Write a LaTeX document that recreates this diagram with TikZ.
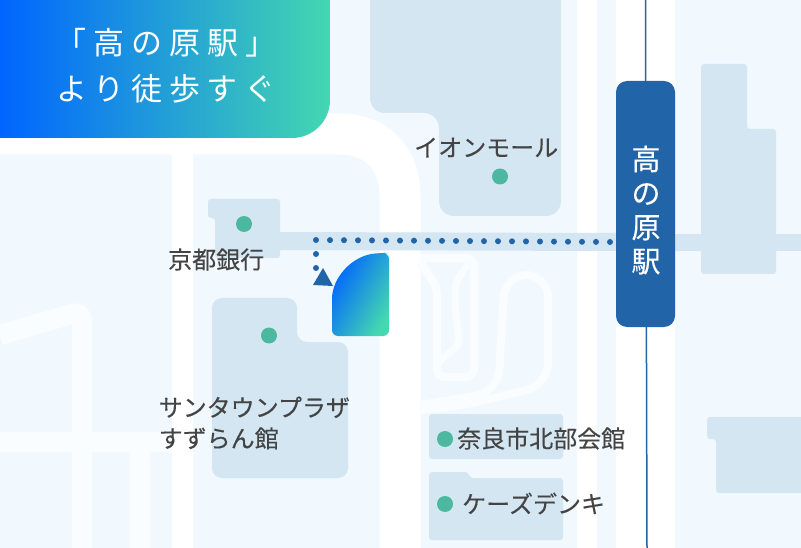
\documentclass[tikz,border=0pt]{standalone}
\usepackage{fontspec}
\usepackage{tikz}
\setmainfont[FakeBold=0.2]{Noto Sans CJK JP}
\newfontfamily\panelfont[LetterSpace=22]{Noto Sans CJK JP}
\definecolor{mappale}{HTML}{F1F8FE}
\definecolor{mapbuilding}{HTML}{D3E6F2}
\definecolor{mapspot}{HTML}{4DB8A0}
\definecolor{maprail}{HTML}{2264A8}
\definecolor{maptext}{HTML}{444444}
\definecolor{mapfaint}{HTML}{FAFDFF}
\definecolor{gradblue}{HTML}{0065FF}
\definecolor{gradgreen}{HTML}{44D7B0}
\tikzset{
  road/.style={draw=white,line width=20pt},
  sideroad/.style={draw=mapfaint,line width=20pt},
  ramp/.style={draw=mapfaint,line width=8pt,line join=round,rounded corners=8pt},
  building/.style={fill=mapbuilding,rounded corners=#1},
  building/.default=3pt,
  spot/.style={fill=mapspot},
  maplabel/.style={inner sep=0pt,anchor=west,text=maptext,font=\fontsize{24}{31}\selectfont,align=left}
}
\begin{document}
\begin{tikzpicture}[x=1pt,y=-1pt]
\useasboundingbox (0,0) rectangle (801,548);
\clip (0,0) rectangle (801,548);
\fill[mappale] (0,0) rectangle (801,548);
\draw[sideroad] (82,548)--(82,326) [rounded corners=10pt] --(82,311)--(0,335);
\draw[sideroad] (140,442)--(140,548);
\draw[sideroad] (0,442)--(193,442);
\draw[road,line width=41pt] (0,134)--(340,134) .. controls (378,134) and (400,160) .. (400,196)--(400,548);
\draw[road,line width=16pt] (0,146)--(200,146);
\draw[road,line width=21pt] (182.5,146)--(182.5,548);
\draw[road] (587,0)--(587,548);
\draw[road,line width=59pt] (645.5,0)--(645.5,548);
\draw[ramp] (420,262)--(437,287)--(437,377)--(474,377)--(474,258)--(420,258);
\draw[ramp,line width=7pt] (468,264)--(455,283)--(455,307)--(460,345)--(437,362)--(437,372);
\draw[ramp,rounded corners=22pt] (420,405)--(498,392)--(505,275)--(548,275)--(548,385)--(460,406)--(420,410);
\fill[mapbuilding] (280,232)--(616,233)--(616,251)--(280,250)--cycle;
\fill[mapbuilding] (675,234) rectangle (801,251);
\fill[building=15pt] (370,-30)--(370,113)--(439,113)--(439,216)--(561,216)--(561,-30)--cycle;
\fill[building] (208,199)--(280,199)--(280,258)--(215,258)--(215,218)--(208,218)--cycle;
\fill[building=10pt] (212,298)--(297,298)--(297,342)--(348,342)--(348,478)--(212,478)--cycle;
\fill[building] (429,414)--(563,414)--(563,459)--(429,459)--cycle;
\fill[building] (429,472)--(468,472)--(470,478)--(563,478)--(563,540)--(429,540)--cycle;
\fill[building] (701,64)--(747,64)--(747,129)--(776,129)--(776,274)--(701,274)--cycle;
\fill[building] (707,417)--(810,417)--(810,493)--(716,493)--(716,439)--(707,439)--cycle;
\draw[maprail,line width=1.5pt] (645.5,0)--(647,548);
\fill[maprail,rounded corners=11pt] (616,81) rectangle (675,327);
\draw[maprail,line width=6pt,line cap=round,dash pattern=on 0pt off 14pt] (316,268)--(316,240)--(612,242);
\fill[maprail] (323,268)--(333,286)--(313,285)--cycle;
\shade[left color=gradblue,right color=gradgreen,shading angle=60,rounded corners=6pt] (332,336)--(389,336)--(389,253)--(382,253) .. controls (352,255) and (332,278) .. (332,305)--cycle;
\shade[left color=gradblue,right color=gradgreen] (0,0)--(330,0)--(330,100) arc[start angle=0,end angle=90,radius=38]--(0,138)--cycle;
\fill[spot] (244,224) circle (8);
\fill[spot] (269,335.5) circle (8);
\fill[spot] (500,176.5) circle (8);
\fill[spot] (445,439) circle (8);
\fill[spot] (445,504) circle (8);
\node[inner sep=0pt,text=white,align=center,font=\panelfont\fontsize{31}{46}\selectfont] (panel) at (166,66) {「高の原駅」\\より徒歩すぐ};
\node[inner sep=0pt,text=white,align=center,font=\fontsize{29}{34}\selectfont] (station) at (646,210) {高\\の\\原\\駅};
\node[maplabel] (kyoto) at (168,259.5) {京都銀行};
\node[maplabel] (aeon) at (414,147.5) {イオンモール};
\node[maplabel] (suntown) at (158.5,423) {サンタウンプラザ\\すずらん館};
\node[maplabel] (nara) at (457,438.5) {奈良市北部会館};
\node[maplabel] (ks) at (462,503.5) {ケーズデンキ};
\end{tikzpicture}
\end{document}
